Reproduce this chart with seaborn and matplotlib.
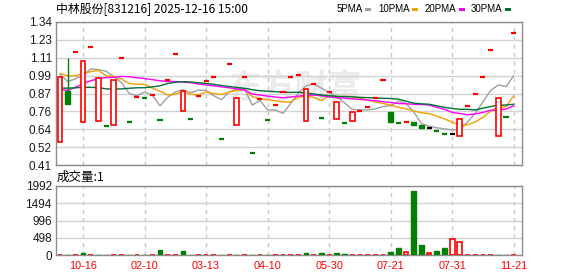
import numpy as np
import pandas as pd
import matplotlib
matplotlib.use("Agg")
import matplotlib.pyplot as plt
import seaborn as sns
from matplotlib.patches import Rectangle

# ---------------- data ----------------
opens = [0.557, 0.891, 1.143, 0.687, 1.175, 0.694, 0.663, 0.668, 1.105, 0.688,
         0.851, 0.843, 0.863, 0.702, 0.963, 1.132, 0.758, 0.708, 0.861, 0.955,
         0.981, 0.577, 1.066, 0.668, 0.983, 0.487, 0.842, 0.700, 0.800, 0.888,
         0.985, 0.994, 0.693, 0.935, 0.717, 0.883, 0.709, 0.683, 0.693, 0.759,
         0.790, 0.846, 0.961, 0.753, 0.686, 0.689, 0.689, 0.670, 0.652, 0.629,
         0.609, 0.609, 0.597, 0.792, 0.870, 0.982, 1.156, 0.597, 0.719, 1.266]
highs = [0.982, 1.104, 1.143, 1.084, 1.175, 0.977, 0.663, 0.962, 1.105, 0.688,
         0.851, 0.843, 0.863, 0.702, 0.963, 1.132, 0.891, 0.708, 0.861, 0.955,
         0.981, 0.577, 1.066, 0.843, 0.983, 0.487, 0.842, 0.700, 0.800, 0.888,
         0.985, 0.994, 0.903, 0.935, 0.717, 0.883, 0.818, 0.683, 0.753, 0.759,
         0.790, 0.846, 0.961, 0.753, 0.686, 0.689, 0.689, 0.670, 0.652, 0.629,
         0.609, 0.609, 0.709, 0.792, 0.870, 0.982, 1.156, 0.843, 0.719, 1.266]
lows = [0.557, 0.805, 1.143, 0.687, 1.175, 0.694, 0.663, 0.668, 1.105, 0.688,
        0.851, 0.843, 0.863, 0.702, 0.963, 1.132, 0.758, 0.708, 0.861, 0.955,
        0.981, 0.577, 1.066, 0.668, 0.983, 0.487, 0.842, 0.700, 0.800, 0.888,
        0.985, 0.994, 0.693, 0.935, 0.717, 0.883, 0.709, 0.683, 0.693, 0.759,
        0.790, 0.846, 0.961, 0.692, 0.686, 0.689, 0.671, 0.652, 0.652, 0.629,
        0.609, 0.609, 0.597, 0.792, 0.870, 0.982, 1.156, 0.597, 0.719, 1.266]
closes = [0.982, 0.805, 1.143, 1.084, 1.175, 0.977, 0.663, 0.962, 1.105, 0.688,
          0.851, 0.843, 0.863, 0.702, 0.963, 1.132, 0.891, 0.708, 0.861, 0.955,
          0.981, 0.577, 1.066, 0.843, 0.983, 0.487, 0.842, 0.700, 0.800, 0.888,
          0.985, 0.994, 0.903, 0.935, 0.717, 0.883, 0.818, 0.683, 0.753, 0.759,
          0.790, 0.846, 0.961, 0.692, 0.686, 0.689, 0.671, 0.652, 0.652, 0.629,
          0.609, 0.609, 0.709, 0.792, 0.870, 0.982, 1.156, 0.843, 0.719, 1.266]
volumes = [10, 10, 10, 58, 10, 10, 10, 10, 10, 10,
           10, 10, 10, 144, 10, 10, 115, 10, 10, 10,
           10, 10, 10, 10, 10, 10, 10, 10, 10, 10,
           10, 10, 60, 10, 60, 10, 60, 30, 10, 10,
           10, 10, 10, 87, 211, 87, 1848, 289, 58, 125,
           211, 453, 366, 10, 10, 10, 10, 10, 10, 1]

ma5 = [1.000, 0.952, 0.970, 0.995, 1.035, 1.030, 1.020, 0.985, 0.945, 0.875,
       0.860, 0.885, 0.865, 0.795, 0.850, 0.885, 0.900, 0.880, 0.897, 0.895,
       0.860, 0.835, 0.885, 0.905, 0.905, 0.800, 0.830, 0.768, 0.768, 0.746,
       0.810, 0.876, 0.925, 0.937, 0.910, 0.880, 0.854, 0.815, 0.772, 0.768,
       0.768, 0.775, 0.790, 0.796, 0.825, 0.810, 0.755, 0.680, 0.662, 0.652,
       0.645, 0.638, 0.638, 0.690, 0.746, 0.820, 0.895, 0.930, 0.920, 0.990]
ma10 = [1.006, 0.990, 0.990, 1.004, 1.017, 1.025, 0.990, 0.985, 0.970, 0.940,
        0.935, 0.935, 0.910, 0.890, 0.866, 0.870, 0.888, 0.870, 0.865, 0.885,
        0.875, 0.868, 0.885, 0.895, 0.900, 0.855, 0.842, 0.835, 0.828, 0.820,
        0.820, 0.852, 0.859, 0.850, 0.828, 0.862, 0.848, 0.857, 0.855, 0.845,
        0.832, 0.820, 0.810, 0.800, 0.785, 0.775, 0.762, 0.750, 0.744, 0.728,
        0.710, 0.688, 0.670, 0.672, 0.690, 0.720, 0.760, 0.785, 0.789, 0.860]
ma20 = [0.897, 0.897, 0.915, 0.938, 0.958, 0.972, 0.978, 0.980, 0.986, 0.984,
        0.978, 0.972, 0.965, 0.958, 0.953, 0.953, 0.950, 0.945, 0.937, 0.930,
        0.925, 0.918, 0.912, 0.905, 0.898, 0.872, 0.865, 0.858, 0.852, 0.847,
        0.852, 0.858, 0.863, 0.865, 0.860, 0.853, 0.848, 0.845, 0.840, 0.837,
        0.832, 0.828, 0.822, 0.817, 0.810, 0.808, 0.805, 0.803, 0.800, 0.785,
        0.772, 0.752, 0.745, 0.737, 0.742, 0.752, 0.766, 0.768, 0.773, 0.795]
ma30 = [0.910, 0.910, 0.912, 0.915, 0.915, 0.914, 0.905, 0.904, 0.905, 0.909,
        0.912, 0.913, 0.918, 0.925, 0.940, 0.948, 0.952, 0.950, 0.945, 0.940,
        0.935, 0.927, 0.920, 0.915, 0.909, 0.900, 0.893, 0.890, 0.887, 0.883,
        0.882, 0.883, 0.878, 0.872, 0.866, 0.860, 0.857, 0.855, 0.853, 0.850,
        0.848, 0.846, 0.844, 0.842, 0.838, 0.825, 0.812, 0.808, 0.805, 0.795,
        0.785, 0.778, 0.772, 0.772, 0.768, 0.780, 0.790, 0.800, 0.800, 0.805]

tick_idx = [3, 11, 19, 27, 35, 43, 51, 59]
tick_labels = ["10-16", "02-10", "03-13", "04-10", "05-30", "07-21", "07-31", "11-21"]
price_tick_labels = ["0.41", "0.52", "0.64", "0.76", "0.87", "0.99", "1.11", "1.23", "1.34"]
vol_tick_vals = [0, 498, 996, 1494, 1992]
vol_tick_labels = ["0", "498", "996", "1494", "1992"]
ma_names = ["5PMA", "10PMA", "20PMA", "30PMA"]
title_text = "中林股份[831216] 2025-12-16 15:00"
vol_title = "成交量:1"
watermark = "东方财富"

# ---------------- style ----------------
sns.set_theme(style="white")
plt.rcParams['font.family'] = ['Liberation Sans', 'DejaVu Sans']
RED = "#ff0000"
GREEN = "#008000"
MA_COLORS = ["#a0a0a0", "#f0a000", "#ff00ff", "#006f35"]
GRID = "#d2d2d2"
SPINE = "#8c8c8c"
LABEL = "#1a1a1a"
CJK = ['Noto Sans CJK SC', 'DejaVu Sans']

W, H = 578, 276
fig = plt.figure(figsize=(W / 100, H / 100), dpi=100)
fig.patch.set_facecolor("white")
ax = fig.add_axes([56 / W, 1 - 165 / H, 466 / W, 143 / H])
axv = fig.add_axes([56 / W, 1 - 255 / H, 466 / W, 69 / H])

n = len(closes)
idx = np.arange(n)
df = pd.DataFrame({"i": idx, "open": opens, "high": highs, "low": lows,
                   "close": closes, "vol": volumes,
                   "ma5": ma5, "ma10": ma10, "ma20": ma20, "ma30": ma30})
prev = df["close"].shift(1).fillna(df["open"])
df["up"] = df["close"] >= prev

xlim = (-0.52, 60.08)
plo, phi = 0.41, 1.34
ptick_vals = [plo + k * (phi - plo) / 8 for k in range(9)]

# ---------- price panel ----------
for a in (ax, axv):
    a.set_facecolor("white")
    for s in a.spines.values():
        s.set_color(SPINE)
        s.set_linewidth(1.0)
    a.set_xlim(*xlim)
    a.tick_params(length=0)

ax.set_ylim(plo, phi)
ax.set_yticks(ptick_vals)
ax.set_yticklabels(price_tick_labels, color=LABEL, fontsize=8.5)
ax.tick_params(axis='y', pad=3)
ax.set_xticks(tick_idx)
ax.set_xticklabels([])
ax.yaxis.grid(True, color=GRID, lw=1.0, ls='-')
ax.xaxis.grid(True, color="#c8c8c8", lw=1.0, ls=(0, (3, 3)))
ax.set_axisbelow(True)

# watermark
ax.text(0.37, 0.53, watermark, transform=ax.transAxes, fontsize=24,
        family=CJK, fontweight='bold', color="#ebebeb", ha='left', va='center',
        style='italic', zorder=0.5)

# moving averages via seaborn
for col, c in zip(["ma5", "ma10", "ma20", "ma30"], MA_COLORS):
    sns.lineplot(data=df, x="i", y=col, ax=ax, color=c, lw=1.0, legend=False, zorder=3)
ax.set_xlabel("")
ax.set_ylabel("")

# candles
bw = 0.62
for _, r in df.iterrows():
    i = int(r["i"])
    o, c, h, l = r["open"], r["close"], r["high"], r["low"]
    if abs(c - o) < 1e-9:
        if c > prev[i] + 1e-9:
            col = RED
        elif c < prev[i] - 1e-9:
            col = GREEN
        else:
            col = "#000000"
        ax.hlines(c, i - 0.33, i + 0.33, color=col, lw=1.6, zorder=4)
        continue
    if c > o:
        col = RED
        if h > c:
            ax.vlines(i, c, h, color=col, lw=1.0, zorder=4)
        if l < o:
            ax.vlines(i, l, o, color=col, lw=1.0, zorder=4)
        ax.bar(i, c - o, bottom=o, width=bw, facecolor="white", edgecolor=col,
               linewidth=1.2, zorder=5)
    else:
        col = GREEN
        ax.vlines(i, l, h, color=col, lw=1.0, zorder=4)
        ax.bar(i, o - c, bottom=c, width=bw, facecolor=col, edgecolor=col,
               linewidth=1.0, zorder=5)

# ---------- volume panel ----------
axv.set_ylim(0, 1992)
axv.set_yticks(vol_tick_vals)
axv.set_yticklabels(vol_tick_labels, color=LABEL, fontsize=8.5)
axv.tick_params(axis='y', pad=3)
axv.set_xticks(tick_idx)
axv.set_xticklabels(tick_labels, color=RED, fontsize=7.8)
axv.tick_params(axis='x', pad=4)
axv.yaxis.grid(True, color=GRID, lw=1.0, ls='-')
axv.xaxis.grid(True, color="#c8c8c8", lw=1.0, ls=(0, (3, 3)))
axv.set_axisbelow(True)
for _, r in df.iterrows():
    i = int(r["i"])
    if r["up"]:
        axv.bar(i, r["vol"], width=bw, facecolor="white", edgecolor=RED, linewidth=1.2, zorder=3)
    else:
        axv.bar(i, r["vol"], width=bw, facecolor=GREEN, edgecolor=GREEN, linewidth=1.0, zorder=3)

# ---------- texts ----------
fig.text(56 / W, 1 - 9 / H, title_text, family=CJK, fontsize=8.6, color="#000000",
         ha='left', va='center')
fig.text(57 / W, 1 - 177 / H, vol_title, family=CJK, fontsize=9, color="#000000",
         ha='left', va='center')

leg_mark_x = [365, 412, 459, 505]
for name, mx, c in zip(ma_names, leg_mark_x, MA_COLORS):
    fig.text((mx - 2.5) / W, 1 - 9.5 / H, name, fontsize=7, color="#000000",
             ha='right', va='center')
    fig.add_artist(Rectangle((mx / W, 1 - 11 / H), 6 / W, 3 / H,
                             transform=fig.transFigure, facecolor=c, edgecolor='none'))

fig.savefig("out.png", dpi=100, facecolor="white")
